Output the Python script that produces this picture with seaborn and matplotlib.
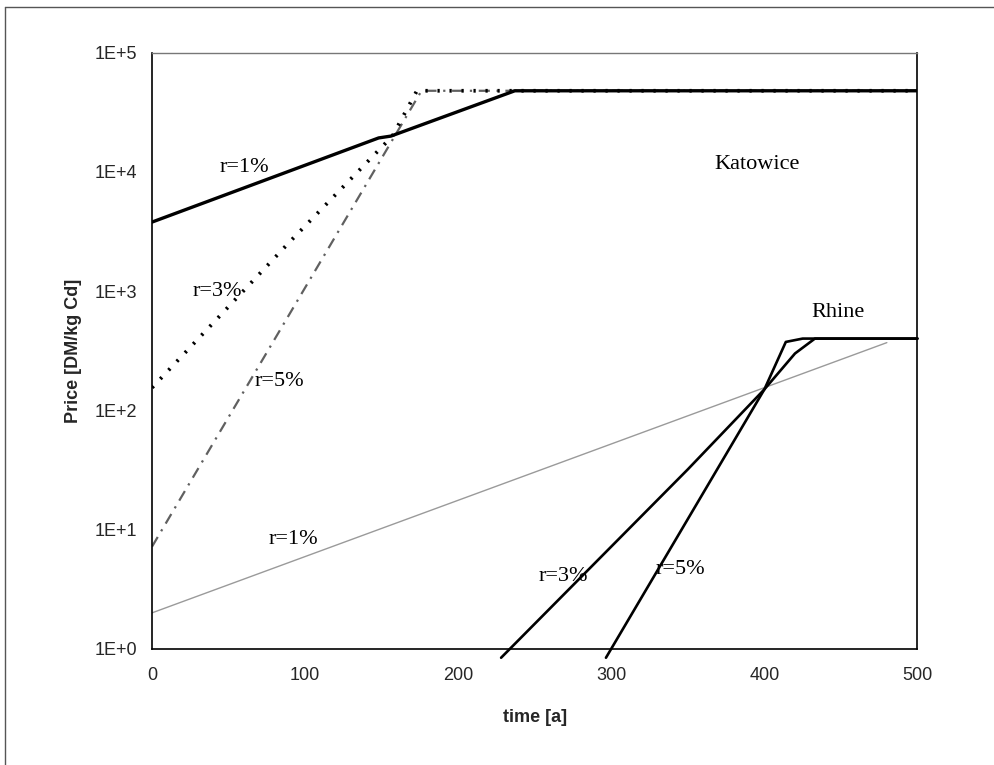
import numpy as np
import pandas as pd
import matplotlib
matplotlib.use("Agg")
import matplotlib.pyplot as plt
import matplotlib.ticker as mticker
from matplotlib.lines import Line2D
import seaborn as sns

# ---- data ----
kat_r1_t = [0, 148, 156, 237, 500]
kat_r1_p = [3800, 19300, 20000, 48000, 48000]
kat_r3_t = [0, 90, 157, 173, 500]
kat_r3_p = [155, 2600, 20000, 48000, 48000]
kat_r5_t = [0, 176, 500]
kat_r5_p = [7.2, 48000, 48000]
rh_r1_t = [0, 480]
rh_r1_p = [2.0, 370]
rh_r3_t = [228, 350, 400, 420, 433, 500]
rh_r3_p = [0.84, 32, 150, 300, 400, 400]
rh_r5_t = [296.5, 400, 414, 425, 500]
rh_r5_p = [0.84, 150, 375, 400, 400]

x_ticks = [0, 100, 200, 300, 400, 500]
y_ticks = [1, 10, 100, 1000, 10000, 100000]
y_tick_labels = ["1E+0", "1E+1", "1E+2", "1E+3", "1E+4", "1E+5"]

sns.set_style("white")
plt.rcParams["font.family"] = ["Liberation Sans", "DejaVu Sans"]

fig = plt.figure(figsize=(9.94, 7.65), dpi=100)
ax = fig.add_axes([0.153, 0.152, 0.770, 0.779])

def draw(t, p, **kw):
    df = pd.DataFrame({"t": t, "p": p})
    sns.lineplot(data=df, x="t", y="p", ax=ax, sort=False, estimator=None, **kw)

draw(rh_r1_t, rh_r1_p, color="#9a9a9a", linewidth=1.0)
draw(rh_r3_t, rh_r3_p, color="black", linewidth=1.9)
draw(rh_r5_t, rh_r5_p, color="black", linewidth=1.9)
draw(kat_r5_t, kat_r5_p, color="#606060", linewidth=1.6, linestyle=(0, (5, 3, 1, 3)))
draw(kat_r3_t, kat_r3_p, color="black", linewidth=2.7, linestyle=(0, (0.6, 2.6)))
draw(kat_r1_t, kat_r1_p, color="black", linewidth=2.4)

for ln in ax.lines[1:3]:
    ln.set_clip_on(False)

ax.set_yscale("log")
ax.set_xlim(0, 500)
ax.set_ylim(1, 1e5)
ax.xaxis.set_major_locator(mticker.FixedLocator(x_ticks))
ax.yaxis.set_major_locator(mticker.FixedLocator(y_ticks))
ax.yaxis.set_major_formatter(mticker.FixedFormatter(y_tick_labels))
ax.yaxis.set_minor_locator(mticker.NullLocator())
ax.tick_params(axis="both", which="major", direction="inout", length=8, width=1,
               labelsize=13, color="black")
ax.tick_params(axis="x", pad=9)
ax.tick_params(axis="y", pad=7)

for s in ["left", "bottom", "right"]:
    ax.spines[s].set_color("black")
    ax.spines[s].set_linewidth(1.2)
ax.spines["top"].set_color("#777777")
ax.spines["top"].set_linewidth(1.0)

ax.set_xlabel("time [a]", fontsize=13, fontweight="bold", labelpad=18)
ax.set_ylabel("Price [DM/kg Cd]", fontsize=13, fontweight="bold", labelpad=9)

serif = dict(family="Liberation Serif", fontsize=16, color="black")
ax.text(60, 1.1e4, "r=1%", ha="center", va="center", **serif)
ax.text(59, 1000, "r=3%", ha="right", va="center", **serif)
ax.text(67, 175, "r=5%", ha="left", va="center", **serif)
ax.text(92, 8.3, "r=1%", ha="center", va="center", **serif)
ax.text(285, 4.0, "r=3%", ha="right", va="center", **serif)
ax.text(329, 4.6, "r=5%", ha="left", va="center", **serif)
ax.text(395, 1.15e4, "Katowice", ha="center", va="center", **serif)
ax.text(448, 660, "Rhine", ha="center", va="center", **serif)

# figure frame
fig.add_artist(Line2D([0.005, 0.005], [0.0, 0.991], transform=fig.transFigure,
                      color="#555555", linewidth=1.0))
fig.add_artist(Line2D([0.005, 1.0], [0.991, 0.991], transform=fig.transFigure,
                      color="#555555", linewidth=1.0))

fig.savefig("out.png", dpi=100)
